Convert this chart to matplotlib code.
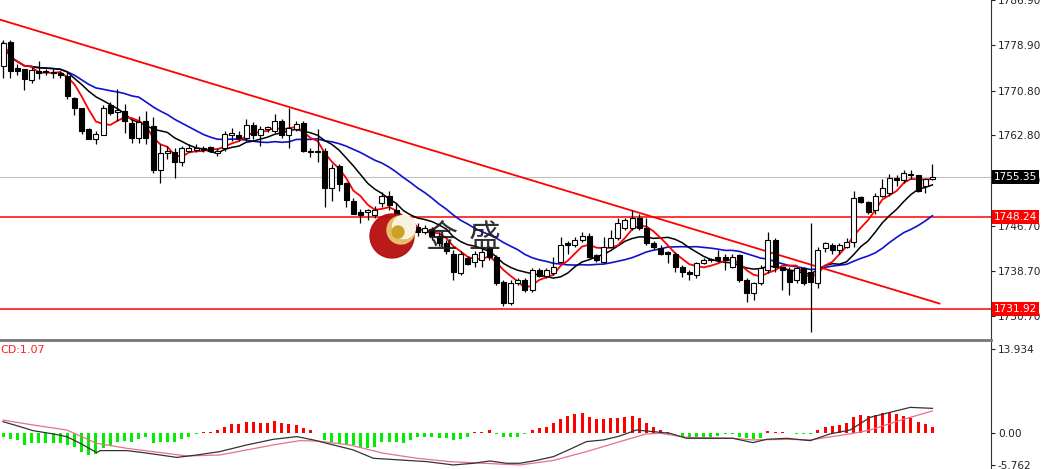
import numpy as np
import pandas as pd
import matplotlib
matplotlib.use("Agg")
import matplotlib.pyplot as plt
from matplotlib.patches import Circle

# OHLC candles (oldest first)
opens = [
    1775.2, 1779.4, 1774.8, 1774.6, 1772.7, 1774.3, 1774.1, 1773.9, 1773.9, 1773.4,
    1769.5, 1767.6, 1764.0, 1762.2, 1762.9, 1768.3, 1767.0, 1767.2, 1765.1, 1762.4,
    1765.4, 1764.5, 1756.6, 1759.6, 1759.8, 1758.0, 1760.1, 1760.3, 1760.6, 1760.8,
    1759.6, 1760.5, 1762.8, 1762.8, 1762.4, 1764.7, 1762.9, 1764.0, 1763.6, 1765.4,
    1762.8, 1764.0, 1765.1, 1760.1, 1759.8, 1760.1, 1753.5, 1757.3, 1754.3, 1751.2,
    1749.1, 1749.1, 1748.6, 1750.7, 1752.1, 1749.5, 1746.3, 1745.4, 1746.5, 1745.7,
    1746.1, 1745.0, 1743.6, 1741.8, 1738.3, 1741.0, 1740.3, 1740.6, 1742.7, 1741.1,
    1736.7, 1733.0, 1736.5, 1737.1, 1735.3, 1738.8, 1737.8, 1738.3, 1740.3, 1743.6,
    1743.3, 1744.2, 1745.0, 1741.5, 1740.3, 1742.9, 1744.5, 1746.3, 1746.3, 1748.2,
    1746.3, 1743.6, 1742.7, 1742.0, 1741.8, 1739.4, 1738.5, 1737.9, 1740.1, 1740.6,
    1741.1, 1741.1, 1739.4, 1741.5, 1737.1, 1734.8, 1736.5, 1738.8, 1744.2, 1739.4,
    1738.8, 1737.1, 1739.2, 1738.5, 1736.5, 1742.7, 1743.3, 1742.4, 1742.9, 1743.8,
    1751.8, 1750.9, 1749.5, 1752.1, 1752.5, 1755.3, 1754.8, 1756.0, 1755.7, 1753.9,
    1755.1]
highs = [
    1779.8, 1779.8, 1775.5, 1774.6, 1775.0, 1776.1, 1774.6, 1774.6, 1774.3, 1774.1,
    1769.7, 1767.7, 1764.2, 1763.6, 1768.3, 1768.8, 1771.1, 1768.4, 1765.8, 1766.3,
    1767.2, 1766.0, 1761.3, 1761.0, 1760.6, 1761.0, 1761.3, 1761.2, 1761.0, 1761.0,
    1760.6, 1763.6, 1764.2, 1763.6, 1765.8, 1765.2, 1764.5, 1764.5, 1766.7, 1765.8,
    1767.7, 1765.4, 1765.4, 1760.5, 1764.0, 1760.6, 1757.8, 1757.8, 1754.6, 1751.6,
    1749.8, 1749.8, 1750.2, 1752.7, 1753.0, 1750.7, 1746.6, 1746.8, 1747.2, 1746.8,
    1746.6, 1745.6, 1744.2, 1742.4, 1742.2, 1741.3, 1742.2, 1742.7, 1743.1, 1741.5,
    1737.1, 1737.1, 1737.4, 1737.4, 1739.2, 1739.2, 1739.2, 1741.1, 1744.7, 1744.0,
    1744.7, 1745.6, 1745.4, 1741.8, 1744.7, 1745.9, 1748.1, 1748.2, 1749.5, 1748.9,
    1748.1, 1744.0, 1743.3, 1742.2, 1742.0, 1739.7, 1738.8, 1740.3, 1741.0, 1741.0,
    1742.4, 1741.8, 1741.8, 1741.8, 1737.4, 1736.7, 1739.7, 1745.6, 1744.5, 1739.4,
    1739.4, 1739.4, 1739.4, 1747.3, 1742.9, 1743.8, 1743.6, 1743.6, 1744.5, 1753.0,
    1752.1, 1751.2, 1752.5, 1755.1, 1756.0, 1755.7, 1756.6, 1756.6, 1755.7, 1755.3,
    1757.8]
lows = [
    1773.0, 1773.0, 1773.6, 1770.9, 1772.2, 1772.9, 1773.6, 1773.0, 1773.0, 1769.3,
    1766.5, 1763.1, 1762.1, 1761.3, 1762.8, 1766.5, 1765.4, 1763.3, 1761.5, 1761.5,
    1761.3, 1756.2, 1754.4, 1758.7, 1755.3, 1757.4, 1759.8, 1759.8, 1759.9, 1759.8,
    1759.2, 1760.1, 1761.9, 1761.9, 1761.9, 1762.2, 1761.0, 1763.5, 1763.3, 1762.4,
    1760.6, 1763.6, 1759.8, 1758.9, 1758.0, 1750.0, 1751.2, 1753.0, 1750.0, 1748.8,
    1747.3, 1747.7, 1748.2, 1750.0, 1749.5, 1745.0, 1743.3, 1744.2, 1744.9, 1745.2,
    1744.2, 1743.1, 1741.8, 1737.1, 1737.9, 1739.7, 1739.4, 1739.4, 1740.6, 1736.2,
    1732.4, 1732.6, 1736.2, 1734.9, 1734.9, 1737.6, 1737.4, 1737.9, 1740.1, 1741.8,
    1742.9, 1743.8, 1741.0, 1740.3, 1740.1, 1742.7, 1744.2, 1745.9, 1745.9, 1745.9,
    1743.3, 1742.6, 1741.5, 1740.1, 1738.5, 1737.6, 1737.1, 1737.4, 1739.9, 1740.3,
    1740.3, 1738.8, 1739.2, 1736.7, 1733.2, 1733.5, 1736.2, 1738.3, 1738.5, 1735.3,
    1734.4, 1736.5, 1736.2, 1727.8, 1735.6, 1742.0, 1741.8, 1741.8, 1742.7, 1742.9,
    1750.7, 1748.9, 1748.9, 1751.8, 1752.1, 1753.9, 1754.4, 1755.1, 1752.7, 1752.5,
    1754.8]
closes = [
    1779.3, 1774.3, 1774.3, 1772.9, 1774.5, 1773.9, 1774.3, 1774.1, 1773.6, 1769.9,
    1767.6, 1763.6, 1762.2, 1763.1, 1767.7, 1766.8, 1767.2, 1765.4, 1762.4, 1765.2,
    1762.4, 1756.6, 1759.6, 1760.1, 1758.0, 1760.6, 1760.6, 1760.6, 1760.3, 1760.1,
    1760.1, 1763.1, 1763.3, 1762.4, 1764.7, 1762.8, 1764.0, 1764.2, 1765.4, 1762.8,
    1764.2, 1764.9, 1760.1, 1759.8, 1760.1, 1753.5, 1757.1, 1754.1, 1751.4, 1748.9,
    1748.6, 1749.5, 1749.6, 1752.1, 1750.4, 1745.6, 1744.2, 1746.5, 1745.7, 1746.3,
    1744.9, 1743.6, 1742.2, 1738.5, 1741.8, 1739.9, 1741.8, 1742.0, 1741.1, 1736.5,
    1733.0, 1736.5, 1737.1, 1735.3, 1738.8, 1737.8, 1738.8, 1739.4, 1743.3, 1743.3,
    1744.2, 1745.0, 1741.1, 1740.6, 1742.9, 1744.5, 1747.2, 1747.7, 1748.2, 1746.3,
    1743.6, 1742.9, 1741.8, 1741.7, 1739.4, 1738.5, 1738.1, 1740.1, 1740.6, 1740.8,
    1740.6, 1740.6, 1741.1, 1737.1, 1734.8, 1736.5, 1739.2, 1744.2, 1739.4, 1738.8,
    1736.7, 1739.2, 1736.5, 1736.7, 1742.4, 1743.6, 1742.4, 1743.3, 1743.8, 1751.6,
    1750.9, 1749.1, 1752.1, 1753.4, 1755.3, 1754.8, 1756.2, 1755.7, 1753.0, 1755.1,
    1755.35]

# MACD histogram per candle
macd_hist = [
    -0.55, -1.0, -1.1, -1.93, -1.66, -1.66, -1.66, -1.55, -1.66, -1.93,
    -2.2, -3.04, -3.6, -3.43, -2.49, -1.93, -1.38, -1.27, -1.38, -1.0,
    -0.66, -1.55, -1.38, -1.38, -1.38, -1.0, -0.55, -0.1, 0.15, 0.2,
    0.55, 1.1, 1.49, 1.49, 1.93, 1.82, 1.77, 1.77, 2.04, 1.66,
    1.49, 1.38, 0.94, 0.55, 0.1, -1.1, -1.38, -1.66, -1.77, -1.93,
    -2.2, -2.49, -2.2, -1.38, -1.38, -1.38, -1.55, -1.1, -0.66, -0.55,
    -0.66, -0.83, -0.83, -1.1, -1.0, -0.66, 0.28, 0.15, 0.55, -0.1,
    -0.66, -0.66, -0.55, -0.1, 0.55, 0.83, 1.0, 1.66, 2.38, 2.87,
    3.2, 3.31, 2.76, 2.38, 2.32, 2.49, 2.6, 2.65, 2.87, 2.49,
    1.77, 1.1, 0.55, 0.15, 0.1, -0.55, -1.0, -0.83, -0.66, -0.66,
    -0.44, -0.1, -0.1, -0.55, -0.83, -1.0, -0.83, 0.39, 0.15, 0.15,
    0.1, -0.1, -0.1, -0.1, 0.55, 1.1, 1.27, 1.38, 1.66, 2.65,
    3.04, 2.93, 3.04, 3.31, 3.43, 3.15, 2.87, 2.6, 1.93, 1.49,
    1.1]

# MACD lines (bar position, value)
macd_x = [0, 2.4, 4.2, 7.0, 8.9, 10.8, 13.1, 13.6, 17.3, 19.6, 22, 24.3, 27.1,
          30.3, 34.1, 37.8, 41.1, 43.4, 46.2, 49, 51.8, 55.5, 59.3, 63, 65.8,
          68.1, 70.4, 72.3, 74.6, 77, 79.3, 81.6, 84, 86.3, 88.6, 90.9, 93.3,
          95.6, 97.9, 102.1, 104.9, 106.8, 109.6, 112.9, 115.7, 118.5, 121.3,
          124.5, 126.9, 130]
macd_line = [1.93, 1.1, 0.44, -0.1, -0.55, -1.66, -3.2, -2.87, -2.87, -3.2, -3.6,
             -4.0, -3.6, -3.04, -1.93, -1.0, -0.55, -1.1, -1.93, -2.76, -4.14,
             -4.42, -4.7, -5.25, -4.97, -4.59, -4.97, -4.97, -4.5, -3.87, -2.65,
             -1.38, -1.1, -0.44, 0.55, 0.28, 0.0, -0.83, -0.83, -0.83, -1.55,
             -1.0, -0.83, -1.22, -0.1, 0.55, 2.65, 3.6, 4.3, 4.14]
signal_x = [0, 4.2, 8.9, 13.1, 17.3, 22, 25.7, 30.3, 34.1, 37.8, 41.5, 43.9, 48.5,
            53.2, 57.9, 62.5, 67.2, 72.3, 77, 81.6, 86.3, 90, 91.9, 95.6, 102.1,
            104.9, 109.6, 112.9, 118.5, 121.3, 125.9, 130]
signal_line = [2.2, 1.38, 0.55, -1.66, -2.49, -3.2, -3.76, -3.6, -2.76, -1.93,
               -1.22, -1.27, -1.93, -3.3, -4.14, -4.7, -4.97, -5.25, -4.5, -3.04,
               -1.38, -0.1, 0.0, -0.66, -0.83, -1.1, -1.0, -1.1, -0.1, 0.55, 2.3, 3.7]

# drawn objects
trend_x = [-0.4, 131.0]
trend_y = [1783.4, 1732.9]
support_levels = [1748.24, 1731.92]
last_price = 1755.35
price_ticks = [1786.90, 1778.90, 1770.80, 1762.80, 1754.80, 1746.70, 1738.70, 1730.70]

W, H = 1044, 469
fig = plt.figure(figsize=(W / 100, H / 100), dpi=100)
fig.patch.set_facecolor("white")

ax = fig.add_axes([0, 1 - 340 / H, 991 / W, 340 / H])
ax2 = fig.add_axes([0, 0, 991 / W, 127 / H])

n = len(closes)
idx = np.arange(n)
o = np.array(opens); c = np.array(closes)
hi = np.array(highs); lo = np.array(lows)

# moving averages 5 / 10 / 20
cs = pd.Series(closes)
ax.plot(idx, cs.rolling(20, min_periods=1).mean(), color="#1010d0", lw=1.2, zorder=3)
ax.plot(idx, cs.rolling(10, min_periods=1).mean(), color="black", lw=1.1, zorder=3)
ax.plot(idx, cs.rolling(5, min_periods=1).mean(), color="#ff0000", lw=1.3, zorder=3)

# candles
ax.vlines(idx, lo, hi, color="black", lw=0.9, zorder=4)
up = c >= o
body_lo = np.minimum(o, c)
body_h = np.maximum(np.abs(c - o), 0.25)
ax.bar(idx[up], body_h[up], bottom=body_lo[up], width=0.7, color="white",
       edgecolor="black", lw=0.8, zorder=5)
ax.bar(idx[~up], body_h[~up], bottom=body_lo[~up], width=0.7, color="black",
       edgecolor="black", lw=0.8, zorder=5)

# lines
ax.axhline(last_price, color="#c0c0c0", lw=0.8, zorder=1)
for lv in support_levels:
    ax.axhline(lv, color="#ff0000", lw=1.1, zorder=2)
ax.plot(trend_x, trend_y, color="#ff0000", lw=1.3, zorder=2)

ax.set_xlim(-0.42, 138.2)
ax.set_ylim(1786.70 - 340 / 5.64, 1786.70)
ax.yaxis.tick_right()
ax.set_yticks(price_ticks)
ax.set_yticklabels([f"{t:.2f}" for t in price_ticks])
ax.tick_params(axis="y", length=3, width=0.8, pad=2, labelsize=7.6, colors="#222222")
ax.set_xticks([])
for s in ["top", "left"]:
    ax.spines[s].set_visible(False)
ax.spines["right"].set_color("#333333")
ax.spines["bottom"].set_color("#777777")
ax.spines["bottom"].set_linewidth(2)

# price boxes on the right axis
ytr = ax.get_yaxis_transform()
ax.text(1.003, last_price, f"{last_price:.2f}", transform=ytr, ha="left", va="center",
        fontsize=7.6, color="white", zorder=10, clip_on=False,
        bbox=dict(boxstyle="square,pad=0.2", fc="black", ec="none"))
for lv in support_levels:
    ax.text(1.003, lv, f"{lv:.2f}", transform=ytr, ha="left", va="center",
            fontsize=7.6, color="white", zorder=10, clip_on=False,
            bbox=dict(boxstyle="square,pad=0.2", fc="#ff0000", ec="none"))

# MACD panel
hist = np.array(macd_hist)
cols = np.where(hist >= 0, "#ff0000", "#00ee00")
ax2.bar(idx, hist, width=0.42, color=cols, zorder=2)
ax2.plot(signal_x, signal_line, color="#e8708a", lw=0.9, zorder=3)
ax2.plot(macd_x, macd_line, color="#333333", lw=0.9, zorder=3)
ax2.set_xlim(-0.42, 138.2)
ax2.set_ylim(-(469 - 433.3) / 6.03, (433.3 - 342) / 6.03)
ax2.yaxis.tick_right()
ax2.set_yticks([13.934, 0.0, -5.2])
ax2.set_yticklabels(["13.934", "0.00", "-5.762"])
ax2.tick_params(axis="y", length=3, width=0.8, pad=2, labelsize=7.6, colors="#222222")
ax2.set_xticks([])
for s in ["top", "left", "bottom"]:
    ax2.spines[s].set_visible(False)
ax2.spines["right"].set_color("#333333")
ax2.text(0.0, 0.935, "CD:1.07", transform=ax2.transAxes, ha="left", va="center",
         fontsize=8, color="#ff2020")

# watermark logo
ov = fig.add_axes([0, 0, 1, 1], zorder=20)
ov.set_xlim(0, W); ov.set_ylim(H, 0); ov.axis("off"); ov.patch.set_alpha(0)
ov.add_patch(Circle((392, 236), 22, color="#b80d0d", alpha=0.95))
ov.add_patch(Circle((401, 230), 14, color="#e8c870", alpha=0.95))
ov.add_patch(Circle((404, 227), 11.5, color="#fbf6e8", alpha=0.95))
ov.add_patch(Circle((398, 232), 6, color="#c9a227"))
cjk = ["Noto Sans CJK SC", "DejaVu Sans"]
ov.text(442, 238, "金", family=cjk, fontsize=23, color="#1a1a1a", alpha=0.9,
        ha="center", va="center")
ov.text(485, 238, "盛", family=cjk, fontsize=23, color="#1a1a1a", alpha=0.9,
        ha="center", va="center")

fig.savefig("out.png", dpi=100)
